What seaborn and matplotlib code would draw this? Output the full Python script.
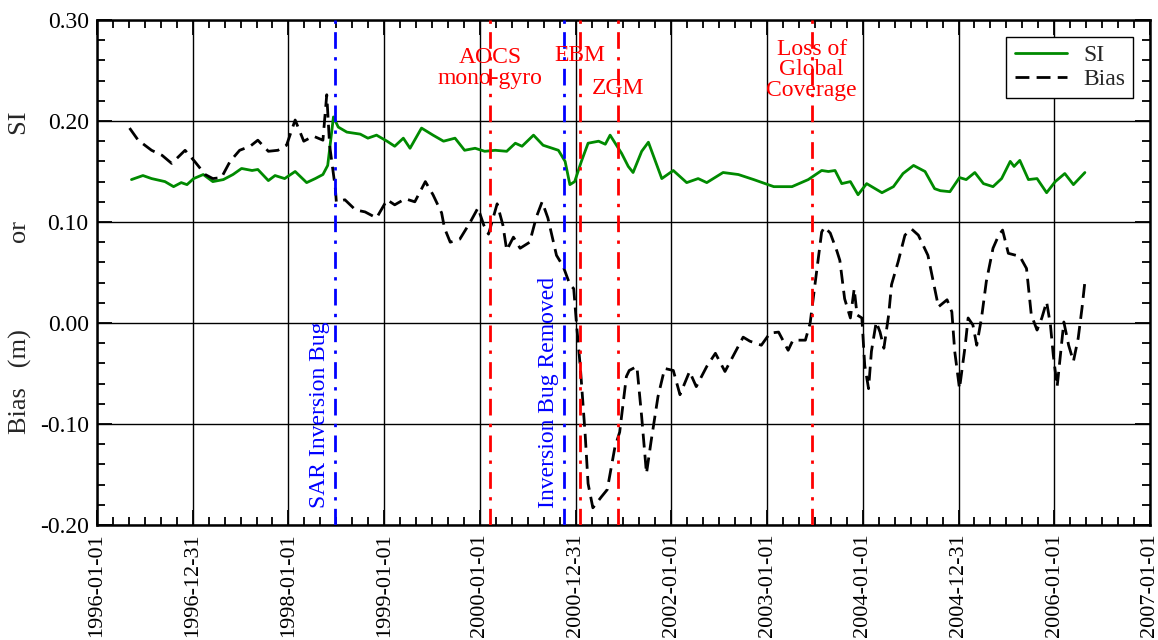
import numpy as np
import pandas as pd
import matplotlib
matplotlib.use("Agg")
import matplotlib.pyplot as plt
import matplotlib.dates as mdates
from matplotlib.ticker import FixedLocator, NullFormatter
import seaborn as sns

# ---------------- data ----------------
si_years = [1996.36, 1996.48, 1996.57, 1996.71, 1996.80, 1996.88, 1996.94,
            1997.01, 1997.11, 1997.21, 1997.32, 1997.42, 1997.51, 1997.62, 1997.68, 1997.79, 1997.86, 1997.96,
            1998.07, 1998.19, 1998.28, 1998.36, 1998.41, 1998.47, 1998.52, 1998.61, 1998.75, 1998.83, 1998.92,
            1999.03, 1999.11, 1999.20, 1999.27, 1999.39, 1999.51, 1999.62, 1999.74, 1999.84, 1999.95,
            2000.05, 2000.16, 2000.28, 2000.37, 2000.44, 2000.56, 2000.66, 2000.82, 2000.89, 2000.94, 2000.99,
            2001.06, 2001.13, 2001.24, 2001.31, 2001.36, 2001.48, 2001.55, 2001.60, 2001.69, 2001.76, 2001.90,
            2002.02, 2002.16, 2002.28, 2002.37, 2002.54, 2002.70, 2002.86, 2002.98,
            2003.07, 2003.26, 2003.43, 2003.57, 2003.64, 2003.71, 2003.78, 2003.87, 2003.95,
            2004.04, 2004.20, 2004.32, 2004.42, 2004.53, 2004.65, 2004.75, 2004.81, 2004.91,
            2005.01, 2005.08, 2005.17, 2005.26, 2005.36, 2005.45, 2005.54, 2005.58, 2005.64, 2005.73, 2005.82, 2005.92,
            2006.01, 2006.11, 2006.20, 2006.32]
si_values = [0.142, 0.146, 0.143, 0.140, 0.135, 0.139, 0.137,
             0.143, 0.147, 0.140, 0.142, 0.147, 0.153, 0.151, 0.152, 0.141, 0.146, 0.143,
             0.150, 0.139, 0.143, 0.147, 0.156, 0.204, 0.194, 0.189, 0.187, 0.183, 0.186,
             0.180, 0.175, 0.183, 0.173, 0.193, 0.186, 0.180, 0.183, 0.171, 0.173,
             0.170, 0.171, 0.170, 0.178, 0.175, 0.186, 0.176, 0.171, 0.160, 0.137, 0.140,
             0.160, 0.178, 0.180, 0.177, 0.186, 0.168, 0.155, 0.149, 0.170, 0.179, 0.143,
             0.151, 0.139, 0.143, 0.139, 0.149, 0.147, 0.142, 0.138,
             0.135, 0.135, 0.142, 0.151, 0.150, 0.151, 0.138, 0.140, 0.127,
             0.138, 0.129, 0.135, 0.148, 0.156, 0.150, 0.133, 0.131, 0.130,
             0.144, 0.142, 0.149, 0.138, 0.135, 0.143, 0.160, 0.155, 0.161, 0.142, 0.143, 0.129,
             0.140, 0.148, 0.137, 0.149]

bias_years = [1996.34, 1996.43, 1996.57, 1996.68, 1996.78, 1996.92, 1997.02, 1997.13, 1997.21, 1997.30,
              1997.39, 1997.49, 1997.60, 1997.68, 1997.79, 1997.89, 1997.98, 1998.07, 1998.16, 1998.26,
              1998.36, 1998.40, 1998.43, 1998.49, 1998.50, 1998.59, 1998.70, 1998.80, 1998.92, 1999.03,
              1999.11, 1999.22, 1999.32, 1999.43, 1999.51, 1999.60, 1999.63, 1999.69, 1999.79, 1999.90,
              1999.98, 2000.04, 2000.09, 2000.18, 2000.24, 2000.28, 2000.35, 2000.42, 2000.52, 2000.59,
              2000.65, 2000.71, 2000.80, 2000.87, 2000.94, 2000.98, 2001.01, 2001.05, 2001.10, 2001.13,
              2001.18, 2001.27, 2001.33, 2001.41, 2001.46, 2001.53, 2001.56, 2001.64, 2001.69, 2001.74,
              2001.79, 2001.86, 2001.93, 2002.02, 2002.09, 2002.19, 2002.26, 2002.37, 2002.46, 2002.56,
              2002.65, 2002.75, 2002.82, 2002.94, 2003.03, 2003.12, 2003.22, 2003.27, 2003.40, 2003.45,
              2003.50, 2003.57, 2003.60, 2003.66, 2003.73, 2003.76, 2003.81, 2003.87, 2003.91, 2003.94,
              2003.99, 2004.02, 2004.06, 2004.09, 2004.14, 2004.18, 2004.22, 2004.27, 2004.30, 2004.37,
              2004.44, 2004.51, 2004.58, 2004.68, 2004.79, 2004.88, 2004.93, 2004.96, 2005.01, 2005.07,
              2005.10, 2005.15, 2005.19, 2005.24, 2005.29, 2005.36, 2005.42, 2005.46, 2005.52, 2005.64,
              2005.71, 2005.76, 2005.82, 2005.87, 2005.92, 2005.96, 2005.99, 2006.03, 2006.08, 2006.10,
              2006.15, 2006.20, 2006.25, 2006.29, 2006.32]
bias_values = [0.193, 0.181, 0.171, 0.166, 0.158, 0.171, 0.160, 0.147, 0.143, 0.144,
               0.160, 0.171, 0.175, 0.181, 0.170, 0.171, 0.176, 0.201, 0.180, 0.185,
               0.181, 0.226, 0.176, 0.133, 0.120, 0.122, 0.112, 0.110, 0.104, 0.122,
               0.117, 0.123, 0.120, 0.140, 0.127, 0.109, 0.094, 0.080, 0.083, 0.100,
               0.114, 0.097, 0.088, 0.118, 0.097, 0.072, 0.085, 0.074, 0.080, 0.105,
               0.120, 0.104, 0.067, 0.056, 0.038, 0.034, -0.002, -0.045, -0.111, -0.159,
               -0.183, -0.172, -0.165, -0.123, -0.108, -0.053, -0.047, -0.043, -0.093, -0.149,
               -0.116, -0.073, -0.045, -0.047, -0.071, -0.048, -0.063, -0.043, -0.030, -0.048,
               -0.032, -0.014, -0.018, -0.022, -0.010, -0.009, -0.027, -0.017, -0.017, 0.000,
               0.038, 0.090, 0.095, 0.089, 0.071, 0.062, 0.024, 0.005, 0.034, 0.008,
               0.005, -0.042, -0.065, -0.028, 0.001, -0.009, -0.025, 0.008, 0.038, 0.061,
               0.087, 0.093, 0.087, 0.067, 0.016, 0.023, 0.011, -0.028, -0.065, -0.022,
               0.005, -0.002, -0.022, 0.005, 0.041, 0.074, 0.087, 0.092, 0.069, 0.066,
               0.054, 0.008, -0.007, 0.005, 0.021, -0.002, -0.032, -0.063, -0.018, 0.001,
               -0.022, -0.038, -0.015, 0.015, 0.041]

# events
event_dates = ["1998-06-28", "2000-02-08", "2000-11-17", "2001-01-17", "2001-06-10", "2003-06-20"]
event_labels = ["SAR Inversion Bug", "AOCS\nmono-gyro", "Inversion Bug Removed", "EBM", "ZGM",
                "Loss of\nGlobal\nCoverage"]
event_colors = ["#0000ff", "#ff0000", "#0000ff", "#ff0000", "#ff0000", "#ff0000"]
event_rotated = [True, False, True, False, False, False]
event_text_y = [-0.183, 0.2525, -0.183, 0.265, 0.232, 0.2505]

x_tick_labels = ["1996-01-01", "1996-12-31", "1998-01-01", "1999-01-01", "2000-01-01", "2000-12-31",
                 "2002-01-01", "2003-01-01", "2004-01-01", "2004-12-31", "2006-01-01", "2007-01-01"]
y_ticks = [-0.20, -0.10, 0.00, 0.10, 0.20, 0.30]
y_tick_labels = ["-0.20", "-0.10", "0.00", "0.10", "0.20", "0.30"]

# ---------------- helpers ----------------
origin = pd.Timestamp("1996-01-01")
def to_date(yrs):
    return origin + pd.to_timedelta((np.asarray(yrs) - 1996.0) * 365.25, unit="D")

si_df = pd.DataFrame({"date": to_date(si_years), "value": si_values})
bias_df = pd.DataFrame({"date": to_date(bias_years), "value": bias_values})

# ---------------- style ----------------
sns.set_theme(style="white")
plt.rcParams["font.family"] = ["Liberation Serif", "DejaVu Serif"]
plt.rcParams["font.size"] = 17

fig = plt.figure(figsize=(11.58, 6.4), dpi=100)
ax = fig.add_axes([97 / 1158, 1 - 525 / 640, (1150 - 97) / 1158, (525 - 20) / 640])

sns.lineplot(data=si_df, x="date", y="value", ax=ax, color="#008a00", lw=2.0,
             label="SI", estimator=None, sort=False)
sns.lineplot(data=bias_df, x="date", y="value", ax=ax, color="black", lw=2.0,
             linestyle=(0, (5, 2.6)), label="Bias", estimator=None, sort=False)

for d, lab, col, rot, ty in zip(event_dates, event_labels, event_colors, event_rotated, event_text_y):
    dt = pd.Timestamp(d)
    ax.axvline(dt, color=col, lw=2.0, linestyle=(0, (6, 3, 1.2, 3)), zorder=3)
    if rot:
        ax.annotate(lab, xy=(dt, ty), xytext=(-11, 0), textcoords="offset points",
                    rotation=90, ha="center", va="bottom", color=col, fontsize=17)
    else:
        ax.text(dt, ty, lab, ha="center", va="center", color=col, fontsize=17,
                linespacing=0.95, zorder=4)

xnum0 = mdates.date2num(origin.to_pydatetime())
major = [xnum0 + k * 365.25 for k in range(12)]
minor = [xnum0 + k * 365.25 / 6 for k in range(67)]
ax.set_xlim(major[0], major[-1])
ax.set_ylim(-0.20, 0.30)
ax.xaxis.set_major_locator(FixedLocator(major))
ax.xaxis.set_minor_locator(FixedLocator(minor))
ax.set_xticklabels(x_tick_labels, rotation=90, fontsize=16)
ax.xaxis.set_minor_formatter(NullFormatter())
ax.set_yticks(y_ticks)
ax.set_yticklabels(y_tick_labels, fontsize=17)
ax.yaxis.set_minor_locator(FixedLocator([v / 100 for v in range(-20, 31, 2)]))

ax.tick_params(which="both", direction="in", top=True, right=True, bottom=True, left=True,
               colors="black", width=1.3)
ax.tick_params(which="major", length=11, pad=6)
ax.tick_params(which="minor", length=6)

ax.grid(True, which="major", color="black", lw=1.0)
for s in ax.spines.values():
    s.set_color("black")
    s.set_linewidth(1.8)

ax.set_xlabel("")
ax.set_ylabel("Bias   (m)             or             SI", fontsize=19)
ax.yaxis.set_label_coords(-0.062, 0.5)

leg = ax.legend(loc="upper right", fontsize=17, frameon=True, fancybox=False, borderaxespad=0.7,
                handlelength=2.2, handletextpad=0.7, labelspacing=0.1, borderpad=0.35)
leg.get_frame().set_edgecolor("black")
leg.get_frame().set_linewidth(1.0)
leg.get_frame().set_alpha(1.0)

fig.savefig("out.png", dpi=100)
